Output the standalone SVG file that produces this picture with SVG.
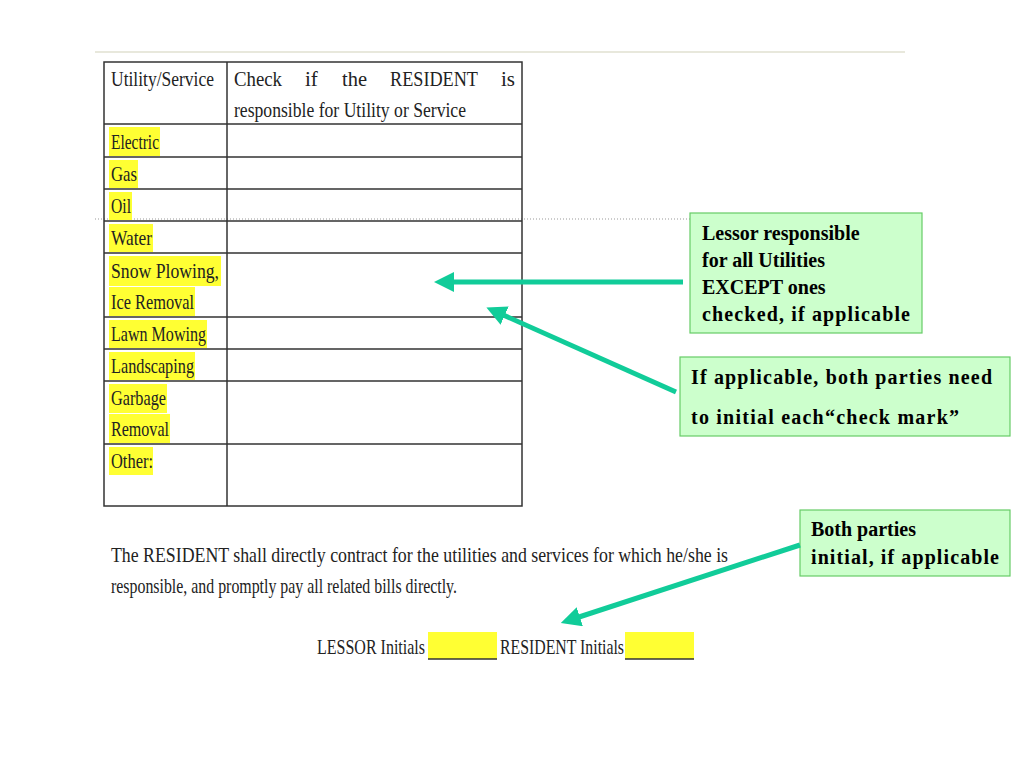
<svg xmlns="http://www.w3.org/2000/svg" width="1024" height="768" viewBox="0 0 1024 768">
<defs>
<style>
.t{font-family:"Liberation Serif",serif;font-size:21px;fill:#222}
.hl{fill:#ffff33}
.g{stroke:#333;stroke-width:1.5;fill:none}
.box{fill:#ccffcc;stroke:#66cc66;stroke-width:1.2}
.b{font-family:"Liberation Serif",serif;font-weight:bold;font-size:20px;fill:#000}
.ar{stroke:#11cc99;stroke-width:5;fill:none}
</style>
<marker id="ah" viewBox="0 0 10 10" refX="2" refY="5" markerWidth="4" markerHeight="4" orient="auto"><path d="M0,0L10,5L0,10z" fill="#11cc99"/></marker>
</defs>
<rect width="1024" height="768" fill="#fff"/>
<line x1="95" y1="52" x2="905" y2="52" stroke="#e8e8dc" stroke-width="2"/>
<line x1="95" y1="219" x2="690" y2="219" stroke="#999" stroke-dasharray="1,2"/>
<g id="table">
<g class="hl">
<rect x="109" y="127" width="51" height="29"/><rect x="109" y="160" width="29" height="28"/><rect x="109" y="192" width="23" height="28"/><rect x="109" y="224" width="44" height="28"/><rect x="109" y="256" width="112" height="30"/><rect x="109" y="287" width="86" height="29"/><rect x="109" y="320" width="98" height="28"/><rect x="109" y="352" width="86" height="28"/><rect x="109" y="384" width="58" height="29"/><rect x="109" y="414" width="61" height="29"/><rect x="109" y="447" width="44" height="28"/>
</g>
<rect x="104" y="62" width="418" height="444" class="g"/>
<line x1="227" y1="62" x2="227" y2="506" class="g"/>
<path class="g" d="M104 124H522M104 157H522M104 189H522M104 221H522M104 253H522M104 317H522M104 349H522M104 381H522M104 444H522"/>
<text class="t" x="111" y="86" textLength="103" lengthAdjust="spacingAndGlyphs">Utility/Service</text>
<text class="t" x="234" y="86" textLength="48" lengthAdjust="spacingAndGlyphs">Check</text><text class="t" x="305" y="86">if</text><text class="t" x="342" y="86" textLength="25" lengthAdjust="spacingAndGlyphs">the</text><text class="t" x="390" y="86" textLength="88" lengthAdjust="spacingAndGlyphs">RESIDENT</text><text class="t" x="501" y="86">is</text>
<text class="t" x="234" y="117" textLength="232" lengthAdjust="spacingAndGlyphs">responsible for Utility or Service</text>
<text class="t" x="111" y="149" textLength="48" lengthAdjust="spacingAndGlyphs">Electric</text>
<text class="t" x="111" y="181" textLength="26" lengthAdjust="spacingAndGlyphs">Gas</text>
<text class="t" x="111" y="213" textLength="20" lengthAdjust="spacingAndGlyphs">Oil</text>
<text class="t" x="111" y="245" textLength="41" lengthAdjust="spacingAndGlyphs">Water</text>
<text class="t" x="111" y="278" textLength="108" lengthAdjust="spacingAndGlyphs">Snow  Plowing,</text>
<text class="t" x="111" y="309" textLength="83" lengthAdjust="spacingAndGlyphs">Ice Removal</text>
<text class="t" x="111" y="341" textLength="95" lengthAdjust="spacingAndGlyphs">Lawn Mowing</text>
<text class="t" x="111" y="373" textLength="83" lengthAdjust="spacingAndGlyphs">Landscaping</text>
<text class="t" x="111" y="405" textLength="55" lengthAdjust="spacingAndGlyphs">Garbage</text>
<text class="t" x="111" y="436" textLength="58" lengthAdjust="spacingAndGlyphs">Removal</text>
<text class="t" x="111" y="468" textLength="42" lengthAdjust="spacingAndGlyphs">Other:</text>
</g>
<g id="paragraph">
<text class="t" x="111" y="562" textLength="617" lengthAdjust="spacingAndGlyphs">The RESIDENT shall directly contract for the utilities and services for which he/she is</text>
<text class="t" x="111" y="593" textLength="346" lengthAdjust="spacingAndGlyphs">responsible, and promptly pay all related bills directly.</text>
<rect x="428" y="632" width="69" height="27" class="hl"/><line x1="428" y1="659" x2="497" y2="659" stroke="#333" stroke-width="1.5"/>
<rect x="625" y="632" width="69" height="27" class="hl"/><line x1="625" y1="659" x2="694" y2="659" stroke="#333" stroke-width="1.5"/>
<text class="t" x="317" y="654" textLength="108" lengthAdjust="spacingAndGlyphs">LESSOR Initials</text>
<text class="t" x="500" y="654" textLength="124" lengthAdjust="spacingAndGlyphs">RESIDENT Initials</text>
</g>
<g id="n1"><rect class="box" x="690" y="213" width="232" height="120"/>
<text class="b" x="702" y="240">Lessor responsible</text><text class="b" x="702" y="267">for all Utilities</text><text class="b" x="702" y="294">EXCEPT ones</text><text class="b" x="702" y="321" textLength="208" lengthAdjust="spacing">checked, if applicable</text></g>
<g id="n2"><rect class="box" x="680" y="357" width="330" height="79"/>
<text class="b" x="691" y="384" textLength="301" lengthAdjust="spacing">If applicable, both parties need</text><text class="b" x="691" y="424" textLength="268" lengthAdjust="spacing">to initial each“check mark”</text></g>
<g id="n3"><rect class="box" x="800" y="510" width="210" height="66"/>
<text class="b" x="811" y="536">Both parties</text><text class="b" x="811" y="564" textLength="188" lengthAdjust="spacing">initial, if applicable</text></g>
<g id="connectors">
<line class="ar" x1="683" y1="282" x2="450" y2="282" marker-end="url(#ah)"/>
<line class="ar" x1="676" y1="392" x2="501" y2="314" marker-end="url(#ah)"/>
<line class="ar" x1="800" y1="545" x2="576" y2="618" marker-end="url(#ah)"/>
</g>
</svg>
